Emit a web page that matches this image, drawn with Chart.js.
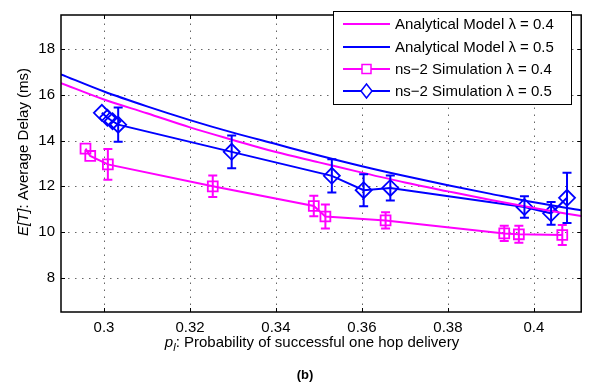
<!DOCTYPE html>
<html>
<head>
<meta charset="utf-8">
<script src="https://cdn.jsdelivr.net/npm/chart.js@4/dist/chart.umd.min.js"></script>
<style>
    html, body { margin: 0; padding: 0; background: #fff; }
    #wrap { width: 591px; height: 389px; }
</style>
</head>
<body>
<div id="wrap"><canvas id="grafico" width="591" height="389"></canvas></div>
<script>
// modelo analitico
const xModelo = [0.29, 0.30, 0.31, 0.32, 0.33, 0.34, 0.35, 0.36, 0.37, 0.38, 0.39, 0.40, 0.411];
const modelo04 = [16.52, 15.8, 15.2, 14.58, 14.03, 13.5, 13.05, 12.6, 12.17, 11.78, 11.4, 11.05, 10.7];
const modelo05 = [16.9, 16.15, 15.5, 14.9, 14.35, 13.85, 13.35, 12.88, 12.45, 12.05, 11.67, 11.3, 10.95];

// simulacao ns-2, lambda = 0.4
const xSim04 = [0.2957, 0.2968, 0.3009, 0.3253, 0.3488, 0.3515, 0.3655, 0.3931, 0.3965, 0.4066];
const sim04 = [13.65, 13.33, 12.96, 12.0, 11.14, 10.68, 10.51, 9.94, 9.9, 9.87];
const erro04 = [0, 0, 0.67, 0.47, 0.45, 0.53, 0.36, 0.33, 0.37, 0.44];

// simulacao ns-2, lambda = 0.5
const xSim05 = [0.2995, 0.3008, 0.302, 0.3033, 0.3297, 0.353, 0.3604, 0.3666, 0.3978, 0.404, 0.4077];
const sim05 = [15.22, 15.0, 14.85, 14.7, 13.51, 12.46, 11.83, 11.93, 11.1, 10.82, 11.5];
const erro05 = [0, 0, 0, 0.75, 0.72, 0.73, 0.7, 0.55, 0.47, 0.5, 1.1];

const xTicks = [0.3, 0.32, 0.34, 0.36, 0.38, 0.4];
const xTickLabels = ["0.3", "0.32", "0.34", "0.36", "0.38", "0.4"];
const yTicks = [8, 10, 12, 14, 16, 18];
const yTickLabels = ["8", "10", "12", "14", "16", "18"];

const legendas = [
    "Analytical Model \u03bb = 0.4",
    "Analytical Model \u03bb = 0.5",
    "ns\u22122 Simulation \u03bb = 0.4",
    "ns\u22122 Simulation \u03bb = 0.5"
];

const MAGENTA = "#ff00ff";
const AZUL = "#0000ff";
const FONTE = "'Liberation Sans', Arial, Helvetica, sans-serif";

function pontos(xs, ys) {
    return xs.map((x, i) => ({ x, y: ys[i] }));
}

// grade pontilhada estilo matlab
const grade = {
    id: "grade",
    beforeDatasetsDraw(chart) {
        const ctx = chart.ctx;
        const a = chart.chartArea;
        const xs = chart.scales.x;
        const ys = chart.scales.y;
        ctx.save();
        ctx.strokeStyle = "rgba(0,0,0,0.6)";
        ctx.lineWidth = 1;
        ctx.setLineDash([1.5, 5.5]);
        ctx.beginPath();
        xTicks.forEach(v => {
            const px = Math.round(xs.getPixelForValue(v)) + 0.5;
            ctx.moveTo(px, a.bottom);
            ctx.lineTo(px, a.top);
        });
        yTicks.forEach(v => {
            const py = Math.round(ys.getPixelForValue(v)) + 0.5;
            ctx.moveTo(a.left, py);
            ctx.lineTo(a.right, py);
        });
        ctx.stroke();
        ctx.restore();
    }
};

// barras de erro desenhadas com as escalas do grafico
const barrasErro = {
    id: "barrasErro",
    afterDatasetsDraw(chart) {
        const ctx = chart.ctx;
        const xs = chart.scales.x;
        const ys = chart.scales.y;
        const series = [
            { xv: xSim04, yv: sim04, ev: erro04, cor: MAGENTA },
            { xv: xSim05, yv: sim05, ev: erro05, cor: AZUL }
        ];
        ctx.save();
        ctx.lineWidth = 2;
        series.forEach(s => {
            ctx.strokeStyle = s.cor;
            s.xv.forEach((x, i) => {
                if (!s.ev[i]) return;
                const px = xs.getPixelForValue(x);
                const topo = ys.getPixelForValue(s.yv[i] + s.ev[i]);
                const base = ys.getPixelForValue(s.yv[i] - s.ev[i]);
                ctx.beginPath();
                ctx.moveTo(px, topo);
                ctx.lineTo(px, base);
                ctx.moveTo(px - 4.5, topo);
                ctx.lineTo(px + 4.5, topo);
                ctx.moveTo(px - 4.5, base);
                ctx.lineTo(px + 4.5, base);
                ctx.stroke();
            });
        });
        ctx.restore();
    }
};

// moldura, marcas internas, titulos dos eixos e legenda
const moldura = {
    id: "moldura",
    afterDraw(chart) {
        const ctx = chart.ctx;
        const a = chart.chartArea;
        const xs = chart.scales.x;
        const ys = chart.scales.y;
        ctx.save();

        ctx.strokeStyle = "#000";
        ctx.lineWidth = 1;
        ctx.beginPath();
        xTicks.forEach(v => {
            const px = Math.round(xs.getPixelForValue(v)) + 0.5;
            ctx.moveTo(px, a.bottom);
            ctx.lineTo(px, a.bottom - 4);
            ctx.moveTo(px, a.top);
            ctx.lineTo(px, a.top + 4);
        });
        yTicks.forEach(v => {
            const py = Math.round(ys.getPixelForValue(v)) + 0.5;
            ctx.moveTo(a.left, py);
            ctx.lineTo(a.left + 4, py);
            ctx.moveTo(a.right, py);
            ctx.lineTo(a.right - 4, py);
        });
        ctx.stroke();

        ctx.lineWidth = 1.5;
        ctx.strokeRect(a.left, a.top, a.right - a.left, a.bottom - a.top);

        // titulo eixo x
        ctx.fillStyle = "#000";
        ctx.textBaseline = "alphabetic";
        const tx1 = ": Probability of successful one hop delivery";
        ctx.font = "italic 15px " + FONTE;
        const wp = ctx.measureText("p").width;
        ctx.font = "italic 11px " + FONTE;
        const wl = ctx.measureText("l").width;
        ctx.font = "15px " + FONTE;
        const wt = ctx.measureText(tx1).width;
        let x0 = 312 - (wp + wl + wt) / 2;
        const bx = 347;
        ctx.font = "italic 15px " + FONTE;
        ctx.fillText("p", x0, bx);
        ctx.font = "italic 11px " + FONTE;
        ctx.fillText("l", x0 + wp, bx + 4);
        ctx.font = "15px " + FONTE;
        ctx.fillText(tx1, x0 + wp + wl, bx);

        // titulo eixo y
        ctx.save();
        ctx.translate(28, 152);
        ctx.rotate(-Math.PI / 2);
        ctx.font = "italic 15px " + FONTE;
        const we = ctx.measureText("E[T]").width;
        ctx.font = "15px " + FONTE;
        const wr = ctx.measureText(": Average Delay (ms)").width;
        const y0 = -(we + wr) / 2;
        ctx.font = "italic 15px " + FONTE;
        ctx.fillText("E[T]", y0, 0);
        ctx.font = "15px " + FONTE;
        ctx.fillText(": Average Delay (ms)", y0 + we, 0);
        ctx.restore();

        // (b)
        ctx.font = "bold 13px " + FONTE;
        ctx.textAlign = "center";
        ctx.fillText("(b)", 305, 379);
        ctx.textAlign = "left";

        // legenda
        const lx = 333, ly = 11, lw = 238, lh = 93;
        ctx.fillStyle = "#fff";
        ctx.fillRect(lx, ly, lw, lh);
        ctx.strokeStyle = "#000";
        ctx.lineWidth = 1;
        ctx.strokeRect(lx + 0.5, ly + 0.5, lw, lh);
        const linhasY = [24, 47, 69, 91];
        chart.data.datasets.forEach((ds, i) => {
            const yy = linhasY[i];
            ctx.strokeStyle = ds.borderColor;
            ctx.lineWidth = 2;
            ctx.beginPath();
            ctx.moveTo(343, yy);
            ctx.lineTo(390, yy);
            ctx.stroke();
            if (ds.pointStyle === "rect") {
                ctx.lineWidth = 1.5;
                ctx.fillStyle = "#fff";
                ctx.fillRect(362, yy - 4.5, 9, 9);
                ctx.strokeRect(362, yy - 4.5, 9, 9);
            } else if (ds.pointStyle === "rectRot") {
                ctx.lineWidth = 1.5;
                ctx.fillStyle = "#fff";
                ctx.beginPath();
                ctx.moveTo(366.5, yy - 7);
                ctx.lineTo(372, yy);
                ctx.lineTo(366.5, yy + 7);
                ctx.lineTo(361, yy);
                ctx.closePath();
                ctx.fill();
                ctx.stroke();
            }
            ctx.fillStyle = "#000";
            ctx.font = "15px " + FONTE;
            ctx.textBaseline = "middle";
            ctx.fillText(legendas[i], 395, yy + 1);
        });
        ctx.restore();
    }
};

const ctx = document.getElementById("grafico");

new Chart(ctx, {
    type: "line",
    data: {
        datasets: [
            {
                label: legendas[0],
                data: pontos(xModelo, modelo04),
                borderColor: MAGENTA,
                borderWidth: 2,
                pointRadius: 0,
                cubicInterpolationMode: "monotone"
            },
            {
                label: legendas[1],
                data: pontos(xModelo, modelo05),
                borderColor: AZUL,
                borderWidth: 2,
                pointRadius: 0,
                cubicInterpolationMode: "monotone"
            },
            {
                label: legendas[2],
                data: pontos(xSim04, sim04),
                borderColor: MAGENTA,
                borderWidth: 2,
                pointStyle: "rect",
                pointRadius: 7,
                pointBorderWidth: 1.8,
                pointBackgroundColor: "rgba(0,0,0,0)",
                pointBorderColor: MAGENTA
            },
            {
                label: legendas[3],
                data: pontos(xSim05, sim05),
                borderColor: AZUL,
                borderWidth: 2,
                pointStyle: "rectRot",
                pointRadius: 8,
                pointBorderWidth: 1.8,
                pointBackgroundColor: "rgba(0,0,0,0)",
                pointBorderColor: AZUL
            }
        ]
    },
    options: {
        responsive: false,
        animation: false,
        devicePixelRatio: 1,
        layout: { padding: { top: 3, right: 9, left: 0, bottom: 0 } },
        plugins: {
            legend: { display: false },
            tooltip: { enabled: false }
        },
        scales: {
            x: {
                type: "linear",
                min: 0.29,
                max: 0.411,
                afterBuildTicks: scale => {
                    scale.ticks = xTicks.map(v => ({ value: v }));
                },
                afterFit: scale => {
                    scale.height = 77;
                },
                ticks: {
                    color: "#000",
                    font: { family: FONTE, size: 15 },
                    padding: 7,
                    maxRotation: 0,
                    callback: (v, i) => xTickLabels[i]
                },
                grid: { display: false, drawTicks: false },
                border: { display: false }
            },
            y: {
                type: "linear",
                min: 6.5,
                max: 19.5,
                afterBuildTicks: scale => {
                    scale.ticks = yTicks.map(v => ({ value: v }));
                },
                afterFit: scale => {
                    scale.width = 61;
                },
                ticks: {
                    color: "#000",
                    font: { family: FONTE, size: 15 },
                    padding: 6,
                    callback: (v, i) => yTickLabels[i]
                },
                grid: { display: false, drawTicks: false },
                border: { display: false }
            }
        }
    },
    plugins: [grade, barrasErro, moldura]
});
</script>
</body>
</html>
